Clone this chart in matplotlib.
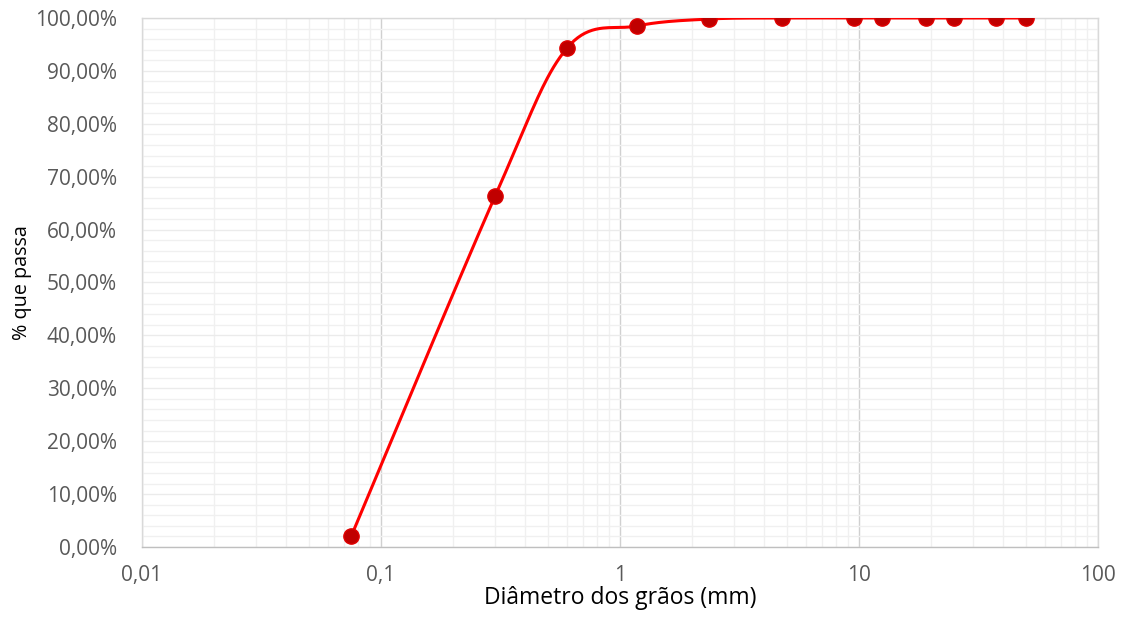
import numpy as np
import matplotlib
matplotlib.use("Agg")
import matplotlib.pyplot as plt
from matplotlib.ticker import FixedLocator, FuncFormatter, NullFormatter

diam_mm = [0.075, 0.3, 0.6, 1.18, 2.36, 4.75, 9.5, 12.5, 19, 25, 37.5, 50]
pct_pass = [2.0, 66.3, 94.3, 98.5, 99.8, 100, 100, 100, 100, 100, 100, 100]
x_ticks = [0.01, 0.1, 1, 10, 100]
x_tick_labels = ["0,01", "0,1", "1", "10", "100"]
y_ticks = list(range(0, 101, 10))

plt.rcParams['font.family'] = ['Open Sans', 'DejaVu Sans']

fig = plt.figure(figsize=(11.27, 6.24), dpi=100)
ax = fig.add_axes([0.126, 0.1234, 0.8483, 0.8478])
ax.set_xscale('log')
ax.set_xlim(0.01, 100)
ax.set_ylim(0, 100)

# smooth curve (Catmull-Rom in screen-like coordinates)
W, H = 956.0, 529.0
u = (np.log10(diam_mm) + 2) / 4 * W
v = np.array(pct_pass) / 100 * H
P = np.column_stack([u, v])
P_ext = np.vstack([P[0], P, P[-1]])
curve = []
for i in range(1, len(P_ext) - 2):
    p0, p1, p2, p3 = P_ext[i - 1], P_ext[i], P_ext[i + 1], P_ext[i + 2]
    c1 = p1 + (p2 - p0) / 6
    c2 = p2 - (p3 - p1) / 6
    t = np.linspace(0, 1, 40)[:, None]
    seg = (1 - t) ** 3 * p1 + 3 * (1 - t) ** 2 * t * c1 + 3 * (1 - t) * t ** 2 * c2 + t ** 3 * p2
    curve.append(seg)
curve = np.vstack(curve)
cx = 10 ** (curve[:, 0] / W * 4 - 2)
cy = curve[:, 1] / H * 100

ax.plot(cx, cy, color='#FF0000', lw=2.2, zorder=3, solid_capstyle='round')
ax.plot(diam_mm, pct_pass, linestyle='none', marker='o', markersize=11,
        markerfacecolor='#C00000', markeredgecolor='#E00000', markeredgewidth=1.0, zorder=4)

# grid
minor_x = [m * 10.0 ** e for e in range(-2, 2) for m in range(2, 10)]
ax.xaxis.set_major_locator(FixedLocator(x_ticks))
ax.xaxis.set_minor_locator(FixedLocator(minor_x))
ax.xaxis.set_major_formatter(FuncFormatter(lambda val, pos: x_tick_labels[x_ticks.index(val)] if val in x_ticks else ""))
ax.xaxis.set_minor_formatter(NullFormatter())
ax.yaxis.set_major_locator(FixedLocator(y_ticks))
ax.yaxis.set_minor_locator(FixedLocator(list(range(0, 101, 2))))
ax.yaxis.set_major_formatter(FuncFormatter(lambda val, pos: f"{val:.2f}".replace('.', ',') + "%"))

ax.grid(which='minor', color='#F0F0F0', lw=1.0, zorder=0)
ax.grid(which='major', axis='y', color='#EBEBEB', lw=1.0, zorder=0)
ax.grid(which='major', axis='x', color='#D0D0D0', lw=1.0, zorder=1)
ax.set_axisbelow(True)

for s in ax.spines.values():
    s.set_color('#D9D9D9')
    s.set_linewidth(1.0)
ax.spines['bottom'].set_color('#BFBFBF')

ax.tick_params(which='both', length=0)
ax.tick_params(axis='y', pad=18, labelsize=15, labelcolor='#595959')
ax.tick_params(axis='x', pad=13, labelsize=15, labelcolor='#595959')

ax.set_xlabel("Diâmetro dos grãos (mm)", fontsize=16.5, color='black', labelpad=0)
ax.set_ylabel("% que passa", fontsize=14.2, color='black', labelpad=2)

fig.savefig("out.png", dpi=100)
